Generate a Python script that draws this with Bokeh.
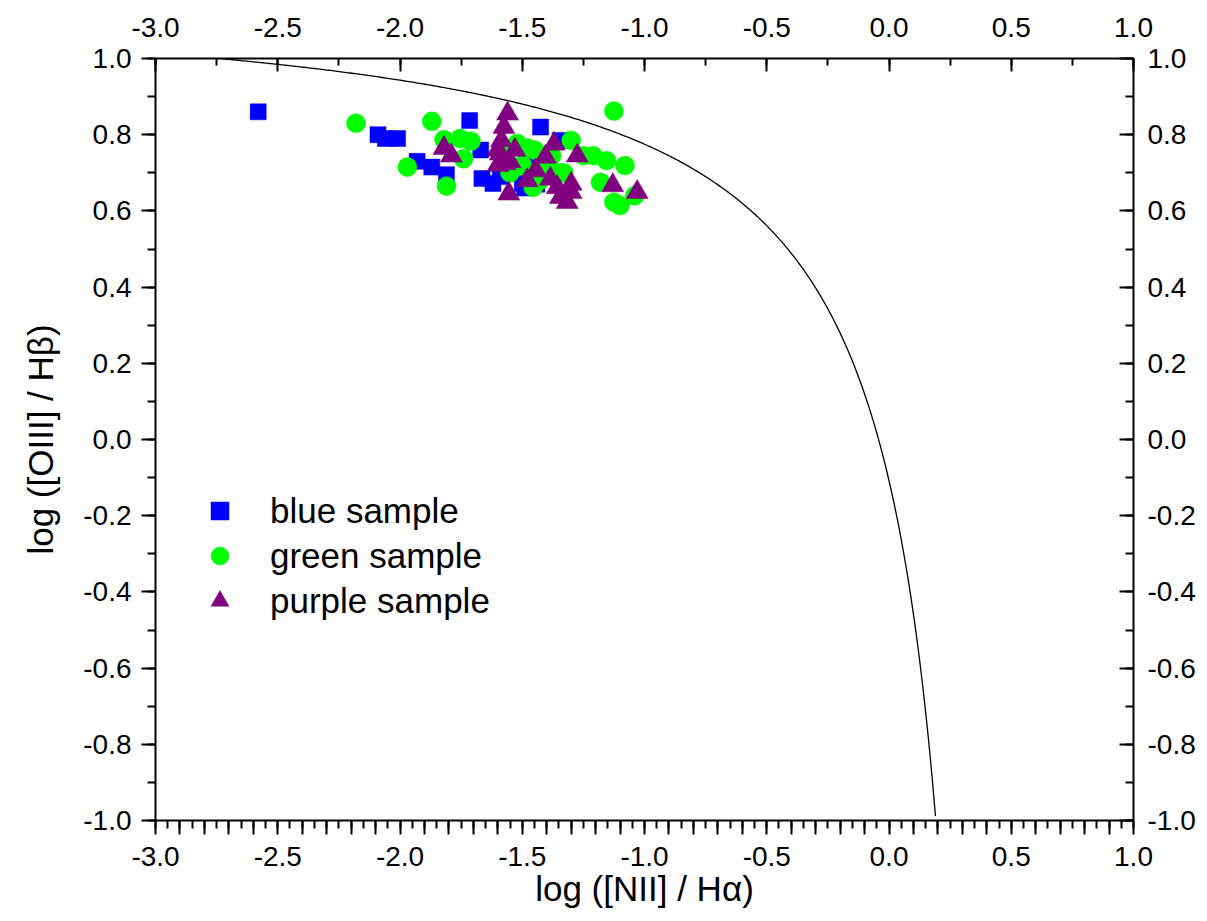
from bokeh.plotting import figure
from bokeh.models import (Range1d, LinearAxis, FixedTicker, CustomJSTickFormatter)
from bokeh.embed import file_html
from bokeh.resources import INLINE

# ---- data ----
blue_x = [-2.58, -2.09, -2.06, -2.01, -1.93, -1.87, -1.81, -1.715, -1.67, -1.665,
          -1.62, -1.59, -1.50, -1.48, -1.455, -1.425, -1.345, -1.49, -1.44]
blue_y = [0.86, 0.80, 0.79, 0.79, 0.73, 0.715, 0.695, 0.837, 0.76, 0.685,
          0.672, 0.69, 0.672, 0.724, 0.73, 0.82, 0.785, 0.66, 0.67]

green_x = [-2.18, -1.97, -1.87, -1.82, -1.81, -1.755, -1.71, -1.74, -1.52, -1.48,
           -1.45, -1.455, -1.40, -1.35, -1.30, -1.25, -1.21, -1.155, -1.08, -1.18,
           -1.125, -1.04, -1.125, -1.10, -1.56, -1.50, -1.38, -1.33, -1.55, -1.43]
green_y = [0.83, 0.715, 0.835, 0.787, 0.665, 0.79, 0.783, 0.737, 0.777, 0.765,
           0.76, 0.662, 0.72, 0.70, 0.785, 0.745, 0.745, 0.732, 0.719, 0.675,
           0.862, 0.64, 0.623, 0.614, 0.76, 0.72, 0.745, 0.70, 0.70, 0.68]

purple_x = [-1.82, -1.79, -1.56, -1.575, -1.585, -1.59, -1.57, -1.60, -1.555, -1.53,
            -1.48, -1.445, -1.405, -1.37, -1.275, -1.385, -1.357, -1.344, -1.316, -1.30,
            -1.30, -1.13, -1.03, -1.55, -1.60]
purple_y = [0.765, 0.745, 0.855, 0.82, 0.785, 0.75, 0.725, 0.72, 0.645, 0.76,
            0.68, 0.706, 0.742, 0.776, 0.745, 0.684, 0.662, 0.636, 0.623, 0.671,
            0.649, 0.667, 0.649, 0.73, 0.76]

# Kewley et al. (2001) maximum-starburst demarcation line
def kewley(x):
    return 0.61 / (x - 0.47) + 1.19

curve_x = [-2.73 + i * (0.19 + 2.73) / 400 for i in range(401)]
curve_y = [kewley(v) for v in curve_x]

x_major = [round(-3.0 + 0.1 * i, 2) for i in range(41)]
x_minor = [round(-3.0 + 0.05 * i, 3) for i in range(81)]
x_top_major = [round(-3.0 + 0.5 * i, 2) for i in range(9)]
x_top_minor = [round(-3.0 + 0.25 * i, 3) for i in range(17)]
y_major = [round(-1.0 + 0.2 * i, 2) for i in range(11)]
y_minor = [round(-1.0 + 0.1 * i, 2) for i in range(21)]

FONT = "Liberation Sans"
TICK_FS = "28px"
TITLE_FS = "35px"

p = figure(width=1207, height=921, output_backend="svg", toolbar_location=None,
           x_range=Range1d(-3.0, 1.0), y_range=Range1d(-1.0, 1.0),
           x_axis_location=None, y_axis_location=None,
           min_border_left=155, min_border_right=74, min_border_top=58,
           min_border_bottom=101)
p.outline_line_color = None
p.xgrid.visible = False
p.ygrid.visible = False
p.background_fill_color = "white"
p.border_fill_color = "white"

half_fmt = CustomJSTickFormatter(code="""
const r = Math.round(tick * 2);
return Math.abs(tick * 2 - r) < 1e-6 ? tick.toFixed(1) : "";
""")
one_fmt = CustomJSTickFormatter(code="return tick.toFixed(1);")

def style(ax, tin, tout, mtin, mtout, standoff):
    ax.axis_line_width = 2
    ax.axis_line_color = "black"
    ax.major_tick_line_width = 2
    ax.minor_tick_line_width = 2
    ax.major_tick_line_color = "black"
    ax.minor_tick_line_color = "black"
    ax.major_tick_in = tin
    ax.major_tick_out = tout
    ax.minor_tick_in = mtin
    ax.minor_tick_out = mtout
    ax.major_label_text_font = FONT
    ax.major_label_text_font_size = TICK_FS
    ax.major_label_text_color = "black"
    ax.major_label_standoff = standoff
    ax.axis_label_text_font = FONT
    ax.axis_label_text_font_size = TITLE_FS
    ax.axis_label_text_font_style = "normal"
    ax.axis_label_text_color = "black"

bottom = LinearAxis(ticker=FixedTicker(ticks=x_major, minor_ticks=x_minor),
                    formatter=half_fmt, axis_label="log ([NII] / H\u03b1)")
style(bottom, 0, 14, 0, 8, 12)
bottom.axis_label_standoff = 0
p.add_layout(bottom, "below")

top = LinearAxis(ticker=FixedTicker(ticks=x_top_major, minor_ticks=x_top_minor),
                 formatter=one_fmt)
style(top, 13, 0, 7, 0, 22)
p.add_layout(top, "above")

left = LinearAxis(ticker=FixedTicker(ticks=y_major, minor_ticks=y_minor),
                  formatter=one_fmt, axis_label="log ([OIII] / H\u03b2)")
style(left, 0, 14, 0, 8, 10)
left.axis_label_standoff = 20
p.add_layout(left, "left")

right = LinearAxis(ticker=FixedTicker(ticks=y_major, minor_ticks=y_minor),
                   formatter=one_fmt)
style(right, 14, 0, 8, 0, 14)
p.add_layout(right, "right")

p.line(curve_x, curve_y, line_color="black", line_width=1.3)

p.scatter(blue_x, blue_y, marker="square", size=16, fill_color="#0000ff",
          line_color="#0000ff", line_width=0.5, legend_label="blue sample")
p.scatter(green_x, green_y, marker="circle", size=19, fill_color="#00ff00",
          line_color="#00ff00", line_width=0.5, legend_label="green sample")
p.scatter(purple_x, purple_y, marker="triangle", size=22, fill_color="#800080",
          line_color="#800080", line_width=0.5, legend_label="purple sample")

lg = p.legend[0]
lg.location = (42, 197)
lg.border_line_color = None
lg.background_fill_alpha = 0
lg.padding = 0
lg.margin = 0
lg.glyph_width = 45
lg.glyph_height = 45
lg.label_height = 45
lg.spacing = 0
lg.label_standoff = 28
lg.label_text_font = FONT
lg.label_text_font_size = TITLE_FS
lg.label_text_color = "black"

open("out.html", "w").write(file_html(p, INLINE))
